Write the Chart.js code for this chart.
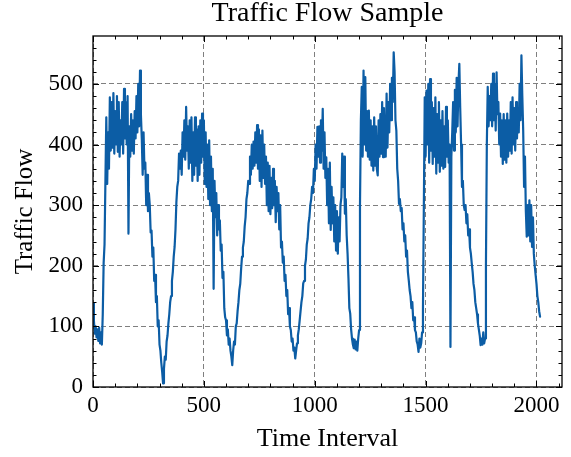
<!DOCTYPE html>
<html>
<head>
<meta charset="utf-8">
<script src="https://cdn.jsdelivr.net/npm/chart.js@4.4.0/dist/chart.umd.min.js"></script>
<style>
  html, body { margin: 0; padding: 0; background: #fff; }
  canvas { display: block; }
</style>
</head>
<body>
<canvas id="traffic" width="571" height="457"></canvas>
<script>
// one reading every 4 time intervals (10 readings per row)
const sampleStep = 4;
const trafficFlow = [
  138, 110, 88, 100, 82, 95, 76, 98, 72, 90,
  70, 120, 205, 235, 340, 445, 335, 420, 360, 478,
  390, 470, 395, 485, 385, 455, 400, 480, 388, 470,
  380, 440, 400, 470, 385, 492, 410, 470, 400, 480,
  253, 430, 380, 450, 390, 440, 385, 455, 410, 480,
  420, 500, 430, 522, 450, 410, 350, 420, 360, 370,
  300, 350, 290, 320, 300, 255, 258, 215, 230, 175,
  185, 140, 150, 100, 110, 70, 60, 40, 25, 6,
  30, 50, 45, 75, 85, 105, 120, 140, 150, 175,
  190, 215, 231, 260, 305, 330, 340, 385, 360, 390,
  350, 420, 380, 440, 375, 462, 390, 430, 360, 440,
  370, 445, 340, 420, 350, 445, 365, 425, 340, 430,
  350, 440, 370, 451, 380, 440, 335, 420, 330, 400,
  310, 407, 300, 380, 290, 360, 162, 340, 280, 320,
  250, 300, 260, 275, 225, 235, 180, 190, 130, 115,
  110, 85, 95, 70, 80, 60, 50, 36, 60, 75,
  70, 100, 105, 125, 140, 160, 170, 195, 215, 230,
  240, 265, 280, 310, 320, 340, 335, 380, 350, 400,
  360, 405, 365, 420, 370, 432, 360, 425, 340, 415,
  330, 423, 345, 400, 335, 380, 300, 370, 290, 365,
  285, 345, 295, 360, 300, 340, 272, 330, 290, 320,
  260, 300, 230, 240, 205, 215, 175, 185, 150, 160,
  120, 130, 100, 94, 75, 80, 60, 65, 47, 60,
  72, 85, 95, 110, 125, 140, 150, 171, 175, 200,
  210, 235, 245, 270, 280, 300, 310, 330, 320, 360,
  340, 400, 360, 429, 380, 430, 370, 440, 390, 459,
  360, 420, 345, 379, 300, 360, 270, 370, 259, 330,
  270, 313, 240, 300, 225, 290, 220, 280, 240, 300,
  313, 385, 330, 380, 286, 310, 250, 220, 180, 130,
  121, 95, 80, 70, 64, 78, 62, 75, 60, 80,
  94, 300, 440, 495, 380, 522, 400, 511, 390, 455,
  380, 456, 375, 440, 365, 430, 357, 445, 365, 430,
  360, 349, 440, 380, 450, 385, 470, 379, 460, 395,
  380, 484, 395, 470, 420, 500, 440, 510, 470, 552,
  520, 440, 423, 360, 340, 302, 310, 290, 295, 260,
  270, 240, 250, 215, 225, 190, 176, 160, 150, 130,
  140, 110, 115, 94, 90, 75, 70, 58, 80, 65,
  72, 90, 130, 300, 478, 380, 489, 400, 500, 370,
  508, 390, 470, 368, 460, 380, 478, 352, 450, 370,
  470, 355, 440, 365, 455, 360, 430, 363, 462, 380,
  440, 370, 400, 66, 380, 420, 470, 390, 490, 420,
  510, 430, 500, 533, 460, 400, 330, 340, 300, 292,
  300, 270, 285, 250, 260, 230, 220, 204, 190, 170,
  160, 140, 130, 120, 105, 95, 85, 69, 80, 70,
  90, 72, 80, 200, 400, 495, 430, 480, 440, 500,
  430, 517, 440, 500, 423, 519, 450, 470, 400, 451,
  380, 440, 368, 450, 375, 440, 370, 451, 380, 440,
  390, 470, 385, 478, 400, 460, 390, 470, 410, 460,
  420, 500, 440, 547, 480, 423, 330, 380, 290, 248,
  300, 250, 308, 240, 300, 231, 280, 220, 200, 185,
  170, 150, 140, 125, 116
];

const xTickValues = [0, 500, 1000, 1500, 2000];
const yTickValues = [0, 100, 200, 300, 400, 500];

const lineColor = '#0C5DA5';
const serif = "'Liberation Serif', 'DejaVu Serif', serif";

// matplotlib style frame: ticks pointing inwards on all four sides
const insideTicks = {
    id: 'insideTicks',
    afterDraw(chart) {
        const { ctx, chartArea: { left, right, top, bottom }, scales: { x, y } } = chart;
        ctx.save();
        ctx.strokeStyle = '#000';
        ctx.lineWidth = 1;
        ctx.beginPath();
        for (let v = 0; v <= x.max; v += 100) {
            const px = Math.round(x.getPixelForValue(v)) + 0.5;
            const len = v % 500 === 0 ? 6 : 3.5;
            ctx.moveTo(px, bottom);
            ctx.lineTo(px, bottom - len);
            ctx.moveTo(px, top);
            ctx.lineTo(px, top + len);
        }
        for (let v = 0; v <= y.max; v += 20) {
            const py = Math.round(y.getPixelForValue(v)) + 0.5;
            const len = v % 100 === 0 ? 6 : 3.5;
            ctx.moveTo(left, py);
            ctx.lineTo(left + len, py);
            ctx.moveTo(right, py);
            ctx.lineTo(right - len, py);
        }
        ctx.stroke();
        ctx.lineWidth = 1.3;
        ctx.strokeRect(left, top, right - left, bottom - top);
        ctx.restore();
    }
};

const config = {
    type: 'line',
    data: {
        datasets: [{
            label: 'Traffic Flow',
            data: trafficFlow.map((v, i) => ({ x: i * sampleStep, y: v })),
            borderColor: lineColor,
            borderWidth: 2.2,
            borderJoinStyle: 'round',
            borderCapStyle: 'round',
            pointRadius: 0,
            tension: 0,
            fill: false
        }]
    },
    plugins: [insideTicks],
    options: {
        responsive: false,
        animation: false,
        devicePixelRatio: 1,
        layout: {
            padding: { left: 0, right: 9, top: 0, bottom: 0 }
        },
        scales: {
            x: {
                type: 'linear',
                min: 0,
                max: 2115,
                afterFit: (scale) => { scale.height = 70; },
                afterBuildTicks: (scale) => {
                    scale.ticks = xTickValues.map(value => ({ value }));
                },
                ticks: {
                    font: { family: serif, size: 23 },
                    color: '#000',
                    padding: 5,
                    maxRotation: 0,
                    autoSkip: false,
                    includeBounds: false,
                    callback: (value) => String(value)
                },
                grid: {
                    color: '#7f7f7f',
                    lineWidth: 1,
                    drawTicks: false
                },
                border: { display: false, dash: [5, 3] },
                title: {
                    display: true,
                    text: 'Time Interval',
                    font: { family: serif, size: 26 },
                    color: '#000',
                    padding: { top: 0, bottom: 2 }
                }
            },
            y: {
                type: 'linear',
                min: 0,
                max: 579,
                afterFit: (scale) => { scale.width = 93; },
                afterBuildTicks: (scale) => {
                    scale.ticks = yTickValues.map(value => ({ value }));
                },
                ticks: {
                    font: { family: serif, size: 23 },
                    color: '#000',
                    padding: 10,
                    includeBounds: false,
                    callback: (value) => String(value)
                },
                grid: {
                    color: '#7f7f7f',
                    lineWidth: 1,
                    drawTicks: false
                },
                border: { display: false, dash: [5, 3] },
                title: {
                    display: true,
                    text: 'Traffic Flow',
                    font: { family: serif, size: 25 },
                    color: '#000',
                    padding: { top: 10, bottom: 0 }
                }
            }
        },
        plugins: {
            legend: { display: false },
            tooltip: { enabled: false },
            title: {
                display: true,
                fullSize: false,
                text: 'Traffic Flow Sample',
                font: { family: serif, size: 28, weight: 'normal', lineHeight: 1 },
                color: '#000',
                padding: { top: 0, bottom: 8 }
            }
        }
    }
};

new Chart(document.getElementById('traffic'), config);
</script>
</body>
</html>
